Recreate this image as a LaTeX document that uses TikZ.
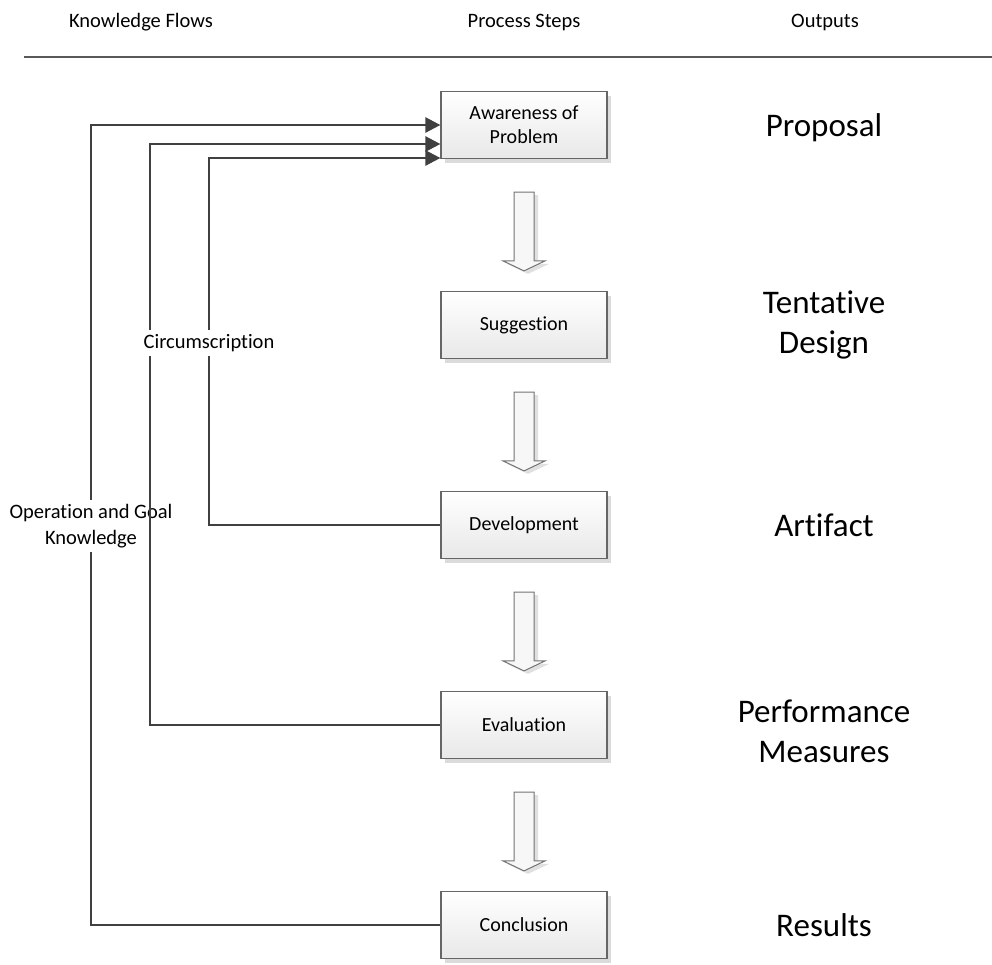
\documentclass[tikz,border=0pt]{standalone}
\usepackage{fontspec}
\setmainfont{Carlito}[Ligatures={NoCommon}]
\usetikzlibrary{arrows.meta,calc,shadows}

\begin{document}
\begin{tikzpicture}
[
x=1pt, y=1pt,
stepbox/.style={rectangle, draw=black!60, line width=1.2pt, top color=white, bottom color=black!9, minimum width=166pt, minimum height=67pt, align=center, font=\fontsize{20}{24}\selectfont, node distance=200pt, drop shadow={shadow xshift=4pt, shadow yshift=-4pt, fill=black!14, opacity=1}},
output/.style={align=center, font=\fontsize{33}{40}\selectfont, node distance=300pt},
header/.style={font=\fontsize{20.5}{24}\selectfont},
flow/.style={draw=black!75, line width=2.5pt, -{Triangle[length=15pt, width=15pt]}},
flowlabel/.style={fill=white, align=center, inner sep=4pt, font=\fontsize{20.5}{26}\selectfont},
blockarrow/.style={draw=black!55, line width=1pt, fill=black!3, drop shadow={shadow xshift=4pt, shadow yshift=-3pt, fill=black!12, opacity=1}}
]
\useasboundingbox[fill=white] (0,0) rectangle (992,-964);

%Headers
\node[header]   (hflow)     at (141,-22)    {Knowledge Flows};
\node[header]   (hstep)     at (524,-22)    {Process Steps};
\node[header]   (hout)      at (825,-22)    {Outputs};
\coordinate     (ruleL)     at (24,-57);
\coordinate     (ruleR)     at (992,-57);
\draw[black!65, line width=1.6pt] (ruleL) -- (ruleR);

%Nodes
\node[stepbox]  (aware)     at (524,-125)       {Awareness of\\Problem};
\node[stepbox]  (sugg)      [below of=aware]    {Suggestion};
\node[stepbox]  (dev)       [below of=sugg]     {Development};
\node[stepbox]  (eval)      [below of=dev]      {Evaluation};
\node[stepbox]  (conc)      [below of=eval]     {Conclusion};

\node[output]   (prop)      [right of=aware, yshift=-3pt]   {Proposal};
\node[output]   (tent)      [right of=sugg]     {Tentative\\Design};
\node[output]   (arti)      [right of=dev]      {Artifact};
\node[output]   (perf)      [right of=eval, yshift=-6pt]    {Performance\\Measures};
\node[output]   (res)       [right of=conc]     {Results};

%Block arrows
\foreach \a/\b in {aware/sugg, sugg/dev, dev/eval, eval/conc}
  \draw[blockarrow] ($(\a.south)+(-10,-33)$) -- ($(\a.south)+(10,-33)$) -- ($(\b.north)+(10,30)$) -- ($(\b.north)+(21,30)$) -- ($(\b.north)+(0,20)$) -- ($(\b.north)+(-21,30)$) -- ($(\b.north)+(-10,30)$) -- cycle;

%Lines
\coordinate (kout) at (91,-125);
\coordinate (kmid) at (150,-144);
\coordinate (kin)  at (209,-158);
\draw[flow] (conc.west) -| (kout) -- (aware.west);
\node[flowlabel] (know) at (91,-526) {Operation and Goal\\Knowledge};
\draw[flow] (eval.west) -| (kmid) -- (kmid -| aware.west);
\draw[flow] (dev.west)  -| (kin)  -- (kin -| aware.west);
\node[flowlabel] (circ) at (209,-343) {Circumscription};

\end{tikzpicture}
\end{document}
